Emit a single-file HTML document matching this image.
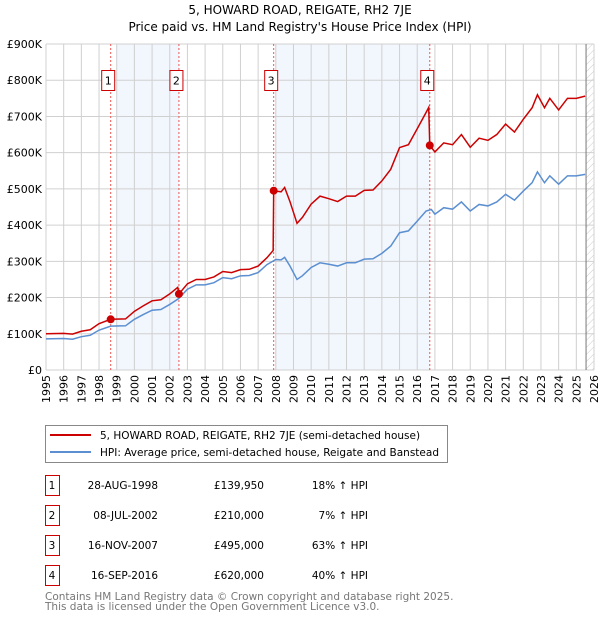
<!DOCTYPE html>
<html><head><meta charset="utf-8"><style>
body{margin:0;width:600px;height:620px;background:#fff;font-family:"DejaVu Sans","Liberation Sans",sans-serif;overflow:hidden}
svg{display:block}
</style></head><body>
<svg id="c" width="600" height="620" font-family="DejaVu Sans, Liberation Sans, sans-serif">
<text x="300" y="14" text-anchor="middle" font-size="12">5, HOWARD ROAD, REIGATE, RH2 7JE</text>
<text x="300" y="31" text-anchor="middle" font-size="12">Price paid vs. HM Land Registry's House Price Index (HPI)</text>
<g id="plot"></g>
<g>
<rect x="45.5" y="425.5" width="402" height="37" fill="#fff" stroke="#888"/>
<line x1="50" y1="435" x2="91" y2="435" stroke="#cc0000" stroke-width="2"/>
<text x="100" y="439" font-size="10.5">5, HOWARD ROAD, REIGATE, RH2 7JE (semi-detached house)</text>
<line x1="50" y1="452" x2="91" y2="452" stroke="#5b8fd1" stroke-width="2"/>
<text x="100" y="456" font-size="10.5">HPI: Average price, semi-detached house, Reigate and Banstead</text>
</g>
<g id="table" font-size="11"></g>
<text x="45" y="600" font-size="10.5" fill="#777">Contains HM Land Registry data © Crown copyright and database right 2025.</text>
<text x="45" y="610" font-size="10.5" fill="#777">This data is licensed under the Open Government Licence v3.0.</text>
</svg>
<script>
const hpiYears=[1995,1996,1996.5,1997,1997.5,1998,1998.66,1999.5,2000,2000.5,2001,2001.5,2002,2002.5,2003,2003.5,2004,2004.5,2005,2005.5,2006,2006.5,2007,2007.5,2008,2008.3,2008.5,2008.8,2009.2,2009.5,2010,2010.5,2011,2011.5,2012,2012.5,2013,2013.5,2014,2014.5,2015,2015.5,2016,2016.5,2016.8,2017,2017.5,2018,2018.5,2019,2019.5,2020,2020.5,2021,2021.5,2022,2022.5,2022.8,2023.2,2023.5,2024,2024.5,2025,2025.5];
const hpiValues=[86,87,85,92,96,110,121,122,140,153,165,167,181,197,223,235,235,241,255,252,260,261,269,291,305,304,311,287,250,260,283,296,292,287,296,296,306,307,322,342,379,384,411,439,443,430,448,444,464,439,457,453,464,485,469,494,517,547,517,536,513,536,536,540];
const redYears=[1995,1996,1996.5,1997,1997.5,1998,1998.66,1999.5,2000,2000.5,2001,2001.5,2002,2002.45,2002.52,2003,2003.5,2004,2004.5,2005,2005.5,2006,2006.5,2007,2007.5,2007.85,2007.88,2008,2008.3,2008.5,2008.8,2009.2,2009.5,2010,2010.5,2011,2011.5,2012,2012.5,2013,2013.5,2014,2014.5,2015,2015.5,2016,2016.5,2016.65,2016.71,2017,2017.5,2018,2018.5,2019,2019.5,2020,2020.5,2021,2021.5,2022,2022.5,2022.8,2023.2,2023.5,2024,2024.5,2025,2025.5];
const redValues=[100,101,99,107,111,128,140,141,162,177,191,194,210,228,210,238,250,250,257,272,269,277,278,287,310,330,495,494,492,504,465,405,421,458,480,473,465,480,480,496,497,522,554,614,622,666,711,725,620,602,627,622,650,615,640,634,650,679,657,692,724,760,724,750,718,750,750,756];
const saleYears=[1998.66,2002.52,2007.88,2016.71];
const salePrices=[139950,210000,495000,620000];
const saleLabels=["1","2","3","4"];
const saleDates=["28-AUG-1998","08-JUL-2002","16-NOV-2007","16-SEP-2016"];
const salePriceText=["£139,950","£210,000","£495,000","£620,000"];
const saleHpiText=["18% ↑ HPI","7% ↑ HPI","63% ↑ HPI","40% ↑ HPI"];
const yTicks=[0,100,200,300,400,500,600,700,800,900];
const yTickLabels=["£0","£100K","£200K","£300K","£400K","£500K","£600K","£700K","£800K","£900K"];
const xTicks=[1995,1996,1997,1998,1999,2000,2001,2002,2003,2004,2005,2006,2007,2008,2009,2010,2011,2012,2013,2014,2015,2016,2017,2018,2019,2020,2021,2022,2023,2024,2025,2026];
const shadeRanges=[[1999.0,2002.52],[2007.95,2016.71]];

const L=46,R=594,T=44,B=370;
const x=v=>L+(v-1995)/(2026-1995)*(R-L);
const y=v=>B-v/900*(B-T);
const NS="http://www.w3.org/2000/svg";
const plot=document.getElementById('plot');
function mk(tag,attrs,parent){const e=document.createElementNS(NS,tag);for(const k in attrs)e.setAttribute(k,attrs[k]);(parent||plot).appendChild(e);return e;}
mk('rect',{x:L,y:T,width:R-L,height:B-T,fill:'#fff'});
shadeRanges.forEach(r=>{const e=mk('rect',{x:x(r[0]),y:T,width:x(r[1])-x(r[0]),height:B-T,fill:'#f2f6fd'});

});
const defs=mk('defs',{});
const pat=mk('pattern',{id:'h',width:5,height:5,patternUnits:'userSpaceOnUse',patternTransform:'rotate(45)'},defs);
mk('line',{x1:0,y1:0,x2:0,y2:5,stroke:'#ccc','stroke-width':1},pat);
const hx=x(2025.55);
const hatch=mk('rect',{x:hx,y:T,width:R-hx,height:B-T,fill:'url(#h)'});


xTicks.forEach(t=>{mk('line',{x1:x(t),y1:T,x2:x(t),y2:B,stroke:'#d0d0d0','stroke-width':1});
const tx=mk('text',{x:0,y:0,transform:`translate(${x(t)+4},${B+5}) rotate(-90)`,'text-anchor':'end','font-size':11});tx.textContent=t;

});
yTicks.forEach((t,i)=>{mk('line',{x1:L,y1:y(t),x2:R,y2:y(t),stroke:'#d0d0d0','stroke-width':1});
const tx=mk('text',{x:L-4,y:y(t)+4,'text-anchor':'end','font-size':11});tx.textContent=yTickLabels[i];

});
mk('line',{x1:x(2025.55),y1:T,x2:x(2025.55),y2:B,stroke:'#777','stroke-width':1});
saleYears.forEach(s=>mk('line',{x1:x(s),y1:T,x2:x(s),y2:B,stroke:'#e55','stroke-width':1,'stroke-dasharray':'2,2'}));
const hp=mk('polyline',{points:hpiYears.map((v,i)=>x(v)+','+y(hpiValues[i])).join(' '),fill:'none',stroke:'#5b8fd1','stroke-width':1.5});


const rp=mk('polyline',{points:redYears.map((v,i)=>x(v)+','+y(redValues[i])).join(' '),fill:'none',stroke:'#cc0000','stroke-width':1.5});


saleYears.forEach((s,i)=>{const c=mk('circle',{cx:x(s),cy:y(salePrices[i]/1000),r:4,fill:'#cc0000'});


const bx=x(s)-9;
const b=mk('rect',{x:bx,y:70.5,width:13,height:20,fill:'#fff',stroke:'#cc0000'});


const t=mk('text',{x:bx+6.5,y:84.5,'text-anchor':'middle','font-size':11});t.textContent=saleLabels[i];

});
const tb=document.getElementById('table');
saleLabels.forEach((lab,i)=>{const yy=476+i*30;
const r=mk('rect',{x:45.5,y:yy-0.5,width:14,height:20,fill:'#fff',stroke:'#cc0000'},tb);


const cells=[[52,'middle',lab],[158,'end',saleDates[i]],[264,'end',salePriceText[i]],[368,'end',saleHpiText[i]]];
cells.forEach(cc=>{const t=mk('text',{x:cc[0],y:yy+13,'text-anchor':cc[1],'font-size':10.5},tb);t.textContent=cc[2];

});});
</script>
</body></html>
